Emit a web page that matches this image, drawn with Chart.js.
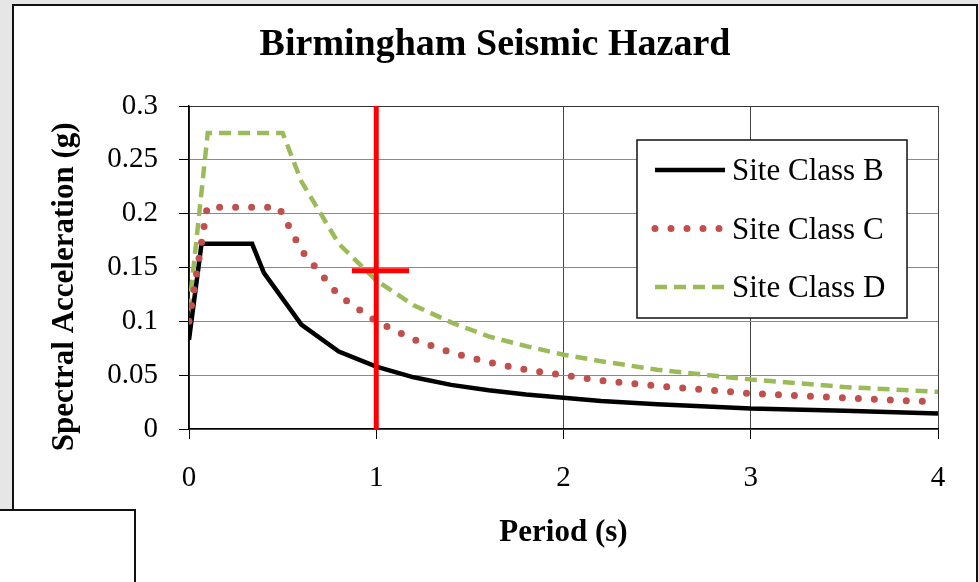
<!DOCTYPE html>
<html>
<head>
<meta charset="utf-8">
<script src="https://cdn.jsdelivr.net/npm/chart.js@4"></script>
<style>
  body { margin: 0; background: #e6e6e6; width: 979px; height: 582px; overflow: hidden; position: relative; }
  #panel { position: absolute; left: 12px; top: 4px; width: 966px; height: 640px; box-sizing: border-box; background: #fff; border: 2px solid #111; }
  #caja { position: absolute; left: -2px; top: 509px; width: 138px; height: 120px; box-sizing: border-box; background: #fff; border: 2px solid #111; z-index: 1; }
  #grafico { position: absolute; left: 0; top: 0; z-index: 2; }
</style>
</head>
<body>
<div id="panel"></div>
<div id="caja"></div>
<canvas id="grafico" width="979" height="582"></canvas>
<script>
// datos (periodo en s, aceleracion en g)
const periodosB = [0, 0.067, 0.337, 0.4, 0.6, 0.8, 1.0, 1.2, 1.4, 1.6, 1.8, 2.0, 2.2, 2.5, 3.0, 3.5, 4.0];
const claseB = [0.083, 0.172, 0.172, 0.145, 0.097, 0.072, 0.058, 0.048, 0.041, 0.036, 0.032, 0.029, 0.026, 0.023, 0.019, 0.017, 0.0145];

const periodosC = [0, 0.097, 0.48, 0.6, 0.8, 1.0, 1.2, 1.4, 1.6, 1.8, 2.0, 2.2, 2.5, 3.0, 3.5, 4.0];
const claseC = [0.100, 0.206, 0.206, 0.166, 0.124, 0.100, 0.083, 0.071, 0.062, 0.055, 0.050, 0.045, 0.040, 0.033, 0.029, 0.025];

const periodosD = [0, 0.1, 0.5, 0.6, 0.8, 1.0, 1.2, 1.4, 1.6, 1.8, 2.0, 2.2, 2.5, 3.0, 3.5, 4.0];
const claseD = [0.110, 0.275, 0.275, 0.230, 0.172, 0.138, 0.115, 0.099, 0.086, 0.077, 0.069, 0.063, 0.055, 0.046, 0.039, 0.0345];

// cruz roja (T = 1 s)
const cruzVX = [1, 1];
const cruzVY = [0, 0.3];
const cruzHX = [0.87, 1.175];
const cruzHY = [0.147, 0.147];

const etiquetasX = ['0', '1', '2', '3', '4'];
const etiquetasY = ['0', '0.05', '0.1', '0.15', '0.2', '0.25', '0.3'];

const nombres = ['Site Class B', 'Site Class C', 'Site Class D'];

const serif = "'Liberation Serif', 'Times New Roman', serif";

const puntos = (xs, ys) => xs.map((x, i) => ({ x: x, y: ys[i] }));

// leyenda dibujada a mano dentro del area del grafico
const leyenda = {
  id: 'leyenda',
  afterDraw(chart) {
    const ctx = chart.ctx;
    const area = chart.chartArea;
    const x0 = area.right - 31, y0 = area.top + 34;
    const x1 = area.left + 448;
    ctx.save();
    ctx.fillStyle = '#fff';
    ctx.fillRect(x1, y0, x0 - x1, 178);
    ctx.strokeStyle = '#111';
    ctx.lineWidth = 1.5;
    ctx.strokeRect(x1, y0, x0 - x1, 178);
    let fila = 0;
    chart.data.datasets.forEach((ds) => {
      if (!ds.label) return;
      const y = y0 + 30 + fila * 58.5;
      ctx.beginPath();
      ctx.strokeStyle = ds.borderColor;
      ctx.lineWidth = ds.borderWidth;
      ctx.lineCap = ds.borderCapStyle || 'butt';
      ctx.setLineDash(ds.borderDash || []);
      ctx.moveTo(x1 + 18, y);
      ctx.lineTo(x1 + 88, y);
      ctx.stroke();
      ctx.setLineDash([]);
      ctx.fillStyle = '#000';
      ctx.font = '31px ' + serif;
      ctx.textBaseline = 'middle';
      ctx.textAlign = 'left';
      ctx.fillText(ds.label, x1 + 95, y + 2);
      fila++;
    });
    ctx.restore();
  }
};

const ctx = document.getElementById('grafico');
const chart1 = new Chart(ctx, {
  type: 'line',
  data: {
    datasets: [
      { data: puntos(cruzVX, cruzVY), borderColor: '#ff0000', borderWidth: 5, order: 0 },
      { data: puntos(cruzHX, cruzHY), borderColor: '#ff0000', borderWidth: 5, order: 0 },
      { label: nombres[0], data: puntos(periodosB, claseB), borderColor: '#000000', borderWidth: 4.5, order: 2 },
      { label: nombres[1], data: puntos(periodosC, claseC), borderColor: '#c0504d', borderWidth: 7, borderDash: [0, 16], borderCapStyle: 'round', order: 1 },
      { label: nombres[2], data: puntos(periodosD, claseD), borderColor: '#9bbb59', borderWidth: 4.5, borderDash: [12, 7], order: 3 }
    ]
  },
  options: {
    responsive: false,
    animation: false,
    elements: { point: { radius: 0 }, line: { tension: 0 } },
    layout: { padding: { left: 11, right: 0, top: 5, bottom: 0 } },
    plugins: {
      legend: { display: false },
      tooltip: { enabled: false },
      title: {
        display: true,
        text: 'Birmingham Seismic Hazard',
        color: '#000',
        font: { family: serif, size: 38, weight: 'bold' },
        padding: { top: 17.5, bottom: 37.9 }
      }
    },
    scales: {
      x: {
        type: 'linear',
        min: 0,
        max: 4,
        afterFit: (s) => { s.height = 153; },
        ticks: {
          stepSize: 1,
          color: '#000',
          padding: 22,
          font: { family: serif, size: 29 },
          callback: (v, i) => etiquetasX[i]
        },
        grid: { color: '#444', lineWidth: 1, tickLength: 10, tickColor: '#000' },
        border: { color: '#000', width: 1.5 },
        title: {
          display: true,
          text: 'Period (s)',
          color: '#000',
          font: { family: serif, size: 31, weight: 'bold' },
          padding: { top: 0, bottom: 30 }
        }
      },
      y: {
        min: 0,
        max: 0.3,
        afterFit: (s) => { s.width = 178; },
        ticks: {
          stepSize: 0.05,
          color: '#000',
          padding: 21,
          font: { family: serif, size: 29 },
          callback: (v, i) => etiquetasY[i]
        },
        grid: {
          color: (c) => (c.index === etiquetasY.length - 1 ? '#333' : '#8a8a8a'),
          lineWidth: 1,
          tickLength: 10,
          tickColor: '#000'
        },
        border: { color: '#000', width: 1.5 },
        title: {
          display: true,
          text: 'Spectral Acceleration (g)     ',
          color: '#000',
          font: { family: serif, size: 31, weight: 'bold' },
          padding: { top: 35, bottom: 0 }
        }
      },
      // eje vacio a la derecha solo para reservar el margen
      margen: {
        position: 'right',
        min: 0,
        max: 0.3,
        afterFit: (s) => { s.width = 41; },
        ticks: { display: false },
        grid: { display: false },
        border: { display: false }
      }
    }
  },
  plugins: [leyenda]
});
</script>
</body>
</html>
